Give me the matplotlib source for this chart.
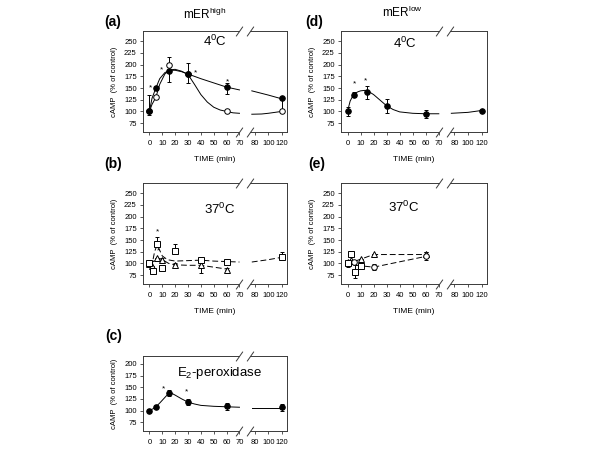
import matplotlib
matplotlib.use("Agg")
import matplotlib.pyplot as plt
import numpy as np

plt.rcParams['font.family'] = ['Liberation Sans', 'DejaVu Sans']
plt.rcParams['mathtext.default'] = 'regular'

ticks_x = [0, 10, 20, 30, 40, 50, 60, 70, 80, 100, 120]
ticks_y = [75, 100, 125, 150, 175, 200, 225, 250]
ticks_y_c = [75, 100, 125, 150, 175, 200]

# (a) mER high, 4 C
a_x = [0, 5, 15, 30, 60, 120]
a_filled = [100, 150, 187, 179, 152, 128]
a_filled_lo = [0, 5, 24, 0, 14, 27]
a_filled_hi = [0, 5, 0, 0, 8, 0]
a_open = [100, 130, 200, 179, 101, 100]
a_open_lo = [8, 3, 0, 18, 0, 0]
a_open_hi = [35, 3, 17, 25, 0, 0]
a_fill_cx = [0, 2, 5, 8, 12, 16, 20, 25, 30, 35, 40, 50, 60, 70]
a_fill_cy = [100, 128, 150, 170, 183, 188, 188, 185, 180, 175, 170, 161, 152, 146]
a_fill_rx = [78, 100, 120]
a_fill_ry = [144, 135, 127]
a_open_cx = [0, 2, 5, 8, 12, 16, 20, 25, 30, 35, 40, 45, 50, 55, 60, 65, 70]
a_open_cy = [100, 115, 130, 158, 180, 189, 190, 186, 179, 158, 136, 120, 109, 103, 100, 97, 96]
a_open_rx = [78, 90, 100, 110, 120]
a_open_ry = [94, 94.5, 96, 98, 100]
a_stars = [(0.5, 150), (9, 188), (35.5, 183), (61, 164)]

# (d) mER low, 4 C
d_x = [0, 5, 15, 30, 60, 120]
d_y = [100, 136, 141, 111, 95, 101]
d_err = [10, 6, 14, 15, 8, 3]
d_cx = [0, 2, 4, 6, 8, 10, 13, 16, 20, 25, 30, 35, 40, 50, 60, 70]
d_cy = [100, 122, 133, 139, 142, 144, 145, 143, 136, 124, 112, 104, 99, 96, 95, 95]
d_rx = [78, 100, 120]
d_ry = [96, 98, 102]
d_stars = [(5, 158), (14, 166)]

# (b) mER high, 37 C
b_sq_x = [0, 3, 6, 10, 20, 40, 60, 120]
b_sq_y = [100, 84, 141, 91, 126, 107, 102, 113]
b_sq_lo = [5, 4, 0, 0, 0, 0, 0, 0]
b_sq_hi = [5, 0, 15, 0, 15, 4, 7, 12]
b_tr_x = [0, 2, 6, 10, 20, 40, 60]
b_tr_y = [99, 95, 112, 107, 96, 96, 87]
b_tr_lo = [0, 0, 0, 0, 0, 17, 0]
b_tr_hi = [0, 0, 0, 4, 4, 0, 3]
b_sq_cx = [0, 2, 4, 6, 8, 10, 14, 20, 30, 40, 50, 60, 70]
b_sq_cy = [100, 97, 125, 140, 128, 116, 108, 105, 106, 107, 105, 104, 103]
b_sq_rx = [78, 100, 120]
b_sq_ry = [103, 108, 113]
b_tr_cx = [0, 3, 6, 10, 15, 20, 30, 40, 50, 60]
b_tr_cy = [100, 104, 112, 108, 100, 97, 96, 96, 92, 88]
b_stars = [(6, 168), (7, 126)]

# (e) mER low, 37 C
e_sq_x = [0, 3, 6, 10]
e_sq_y = [100, 120, 82, 95]
e_sq_err = [8, 7, 14, 6]
e_ci_x = [5, 20, 60]
e_ci_y = [103, 92, 116]
e_ci_err = [0, 6, 8]
e_tr_x = [0, 3, 10, 20, 60]
e_tr_y = [102, 108, 109, 120, 120]
e_tr_err = [0, 0, 0, 0, 5]
e_up_cx = [0, 5, 10, 20, 60]
e_up_cy = [100, 104, 109, 119, 119]
e_lo_cx = [0, 5, 10, 20, 60]
e_lo_cy = [100, 97, 95, 92, 115]

# (c) E2-peroxidase
c_x = [0, 5, 15, 30, 60, 120]
c_y = [100, 108, 137, 118, 109, 107]
c_err = [3, 3, 6, 7, 8, 8]
c_cx = [0, 3, 5, 8, 10, 13, 15, 18, 20, 25, 30, 35, 40, 50, 60, 70]
c_cy = [100, 104, 108, 116, 122, 131, 136, 136, 133, 125, 118, 114, 111, 109, 108, 107]
c_rx = [78, 100, 120]
c_ry = [106, 106, 106]
c_stars = [(11, 146), (29, 139)]

# asse del tempo spezzato: 0-70 lineare, 80-120 compresso
brk_in = [-50, 70, 80, 300]
brk_out = [-50, 70, 82, 82 + 220 * 0.52]

def fwd(x):
    return np.interp(x, brk_in, brk_out)

def inv(x):
    return np.interp(x, brk_out, brk_in)

W, H = 600, 467
spine_col = '#3a3a3a'

def make_axes(fig, left, top, right, bottom):
    return fig.add_axes([left / W, 1 - bottom / H, (right - left) / W, (bottom - top) / H])

def setup_panel(ax, ylim, yticks, xlabel=True):
    ax.set_xscale('function', functions=(fwd, inv))
    ax.set_xlim(-5, 128)
    ax.set_ylim(*ylim)
    ax.set_xticks(ticks_x)
    ax.set_xticklabels([str(t) for t in ticks_x])
    ax.set_yticks(yticks)
    ax.tick_params(labelsize=5.5, length=2.5, width=0.6, color=spine_col)
    ax.tick_params(axis='x', pad=3.5)
    ax.tick_params(axis='y', pad=2)
    ax.minorticks_off()
    for s in ['left', 'right']:
        ax.spines[s].set_linewidth(0.7)
        ax.spines[s].set_color(spine_col)
    ax.spines['top'].set_visible(False)
    ax.spines['bottom'].set_visible(False)
    tr = ax.get_xaxis_transform()
    for yy in [0, 1]:
        ax.plot([-5, 70], [yy, yy], transform=tr, color=spine_col, lw=0.7, clip_on=False)
        ax.plot([77, 128], [yy, yy], transform=tr, color=spine_col, lw=0.7, clip_on=False)
        ax.plot([70, 77], [yy, yy], transform=tr, ls='none', marker=[(-0.7, -1), (0.7, 1)],
                ms=7, mew=0.7, color=spine_col, clip_on=False)
    ax.set_ylabel('cAMP  (% of control)', fontsize=5.5, labelpad=4)
    if xlabel:
        ax.set_xlabel('TIME (min)', fontsize=6, labelpad=6)

def err(ax, x, y, lo, hi, marker, face, ms=4):
    ax.errorbar(x, y, yerr=[lo, hi], fmt=marker, mfc=face, mec='black', ecolor='black',
                ms=ms, mew=0.7, elinewidth=0.7, capsize=1.5, capthick=0.7, zorder=5)

def stars(ax, pts):
    for (x, y) in pts:
        ax.text(x, y, '*', fontsize=6, ha='center', va='center')

def main():
    fig = plt.figure(figsize=(6.0, 4.67), dpi=100)

    # (a)
    ax = make_axes(fig, 143, 31, 287, 132)
    setup_panel(ax, (56, 272), ticks_y)
    ax.plot(a_fill_cx, a_fill_cy, color='black', lw=0.7)
    ax.plot(a_fill_rx, a_fill_ry, color='black', lw=0.7)
    ax.plot(a_open_cx, a_open_cy, color='black', lw=0.7)
    ax.plot(a_open_rx, a_open_ry, color='black', lw=0.7)
    err(ax, a_x, a_open, a_open_lo, a_open_hi, 'o', 'white')
    err(ax, a_x, a_filled, a_filled_lo, a_filled_hi, 'o', 'black')
    stars(ax, a_stars)
    ax.text(0.5, 0.9, '4$^0$C', transform=ax.transAxes, fontsize=9.5, ha='center', va='center')

    # (d)
    ax = make_axes(fig, 341, 31, 487, 132)
    setup_panel(ax, (56, 272), ticks_y)
    ax.plot(d_cx, d_cy, color='black', lw=0.7)
    ax.plot(d_rx, d_ry, color='black', lw=0.7)
    err(ax, d_x, d_y, d_err, d_err, 'o', 'black')
    stars(ax, d_stars)
    ax.text(0.44, 0.88, '4$^0$C', transform=ax.transAxes, fontsize=9.5, ha='center', va='center')

    # (b)
    ax = make_axes(fig, 143, 183, 287, 284)
    setup_panel(ax, (56, 272), ticks_y)
    ax.plot(b_sq_cx, b_sq_cy, color='black', lw=0.7, dashes=(6, 3))
    ax.plot(b_sq_rx, b_sq_ry, color='black', lw=0.7, dashes=(6, 3))
    ax.plot(b_tr_cx, b_tr_cy, color='black', lw=0.7, dashes=(6, 3))
    err(ax, b_tr_x, b_tr_y, b_tr_lo, b_tr_hi, '^', 'white', ms=4)
    err(ax, b_sq_x, b_sq_y, b_sq_lo, b_sq_hi, 's', 'white', ms=4)
    stars(ax, b_stars)
    ax.text(0.53, 0.74, '37$^0$C', transform=ax.transAxes, fontsize=9.5, ha='center', va='center')

    # (e)
    ax = make_axes(fig, 341, 183, 487, 284)
    setup_panel(ax, (56, 272), ticks_y)
    ax.plot(e_up_cx, e_up_cy, color='black', lw=0.7, dashes=(6, 3))
    ax.plot(e_lo_cx, e_lo_cy, color='black', lw=0.7, dashes=(6, 3))
    err(ax, e_tr_x, e_tr_y, e_tr_err, e_tr_err, '^', 'white', ms=4)
    err(ax, e_ci_x, e_ci_y, e_ci_err, e_ci_err, 'o', 'white', ms=4)
    err(ax, e_sq_x, e_sq_y, e_sq_err, e_sq_err, 's', 'white', ms=4)
    ax.text(0.43, 0.76, '37$^0$C', transform=ax.transAxes, fontsize=9.5, ha='center', va='center')

    # (c)
    ax = make_axes(fig, 143, 356, 287, 431)
    setup_panel(ax, (56, 217), ticks_y_c, xlabel=False)
    ax.plot(c_cx, c_cy, color='black', lw=0.7)
    ax.plot(c_rx, c_ry, color='black', lw=0.7)
    err(ax, c_x, c_y, c_err, c_err, 'o', 'black')
    stars(ax, c_stars)
    ax.text(0.53, 0.77, 'E$_2$-peroxidase', transform=ax.transAxes, fontsize=9.5, ha='center', va='center')

    # lettere dei pannelli e titoli
    for lab, x, y in [('(a)', 113, 22), ('(b)', 113, 164), ('(c)', 114, 336),
                      ('(d)', 314, 22), ('(e)', 317, 164)]:
        fig.text(x / W, 1 - y / H, lab, fontsize=10, fontweight='bold', ha='center', va='center')
    fig.text(205 / W, 1 - 14 / H, 'mER$^{high}$', fontsize=8.5, ha='center', va='center')
    fig.text(402 / W, 1 - 12 / H, 'mER$^{low}$', fontsize=8.5, ha='center', va='center')

    fig.savefig('out.png', dpi=100)

main()
